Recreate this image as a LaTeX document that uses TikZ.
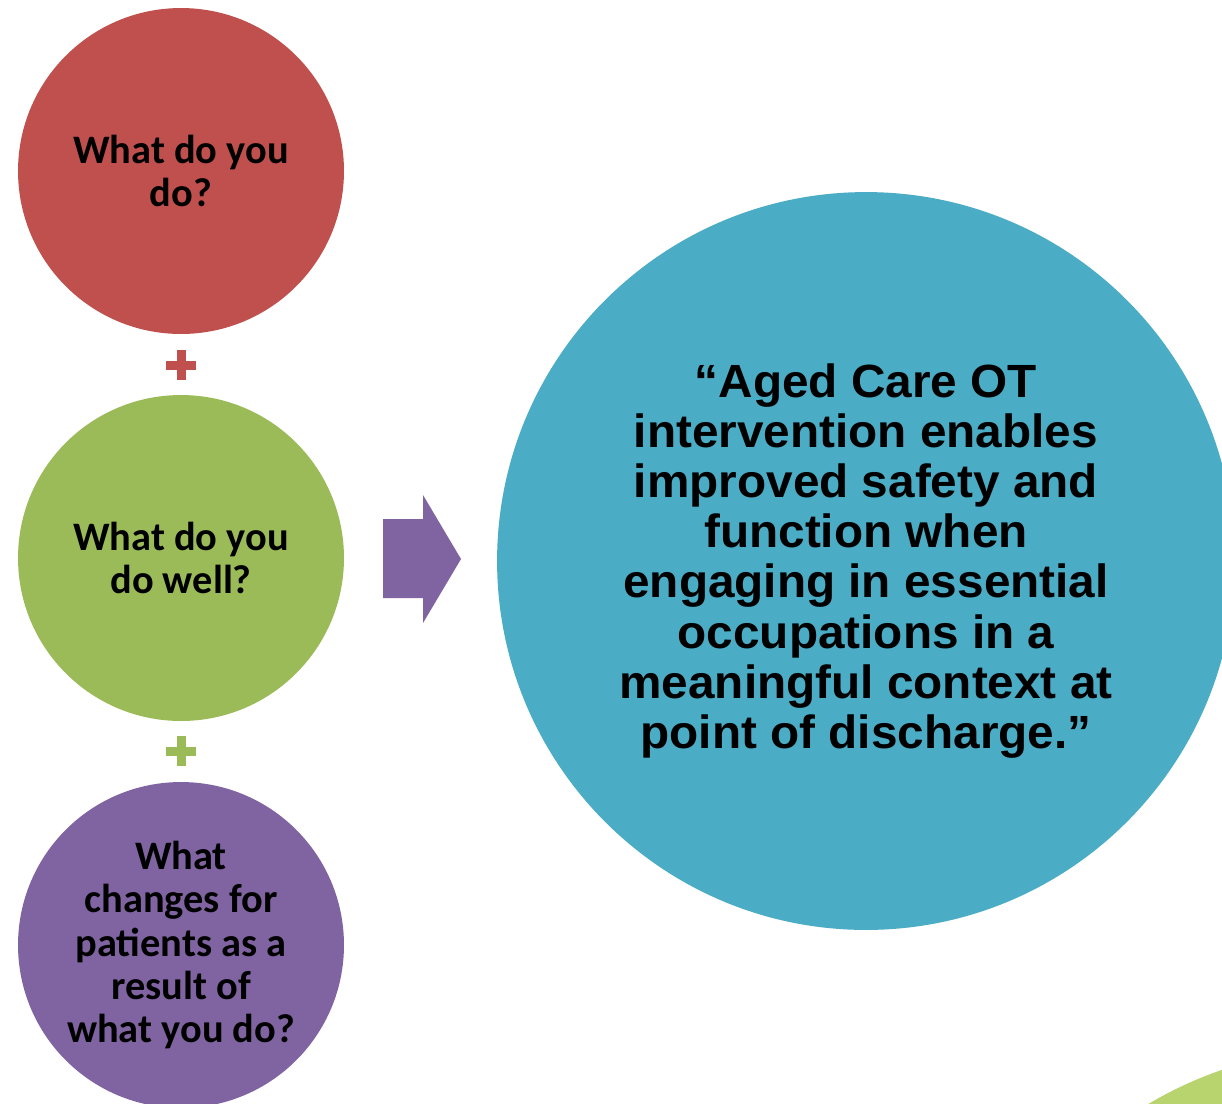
\documentclass[tikz,border=0pt]{standalone}
\usepackage{fontspec}
\setmainfont{Carlito}
\newfontfamily\quotefont[FakeStretch=1.025]{Liberation Sans}
\usepackage{xcolor}
\usetikzlibrary{positioning}
\definecolor{ocred}{RGB}{192, 80, 77}
\definecolor{ocgreen}{RGB}{155, 187, 89}
\definecolor{ocpurple}{RGB}{128, 100, 162}
\definecolor{ocblue}{RGB}{75, 172, 198}
\definecolor{oclime}{RGB}{183, 212, 110}

\tikzset{
    question/.style={circle, inner sep=0pt, minimum size=6.52cm, align=center,
        font=\fontsize{23}{24.5}\selectfont\bfseries},
    plusbar/.style={inner sep=0pt, minimum width=0.6cm, minimum height=0.18cm}
}

\begin{document}
\begin{tikzpicture}[x=0.02cm, y=-0.02cm]
    \useasboundingbox (0,0) rectangle (1222,1103);
    \clip (0,0) rectangle (1222,1103);
    \fill[white] (0,0) rectangle (1222,1103);
    \fill[oclime] (1353,1450) circle (402);

    \node[question, fill=ocred] (qdo) at (181,171) {What do you\\do?};
    \node[question, fill=ocgreen] (qwell) at (181,558) {What do you\\do well?};
    \node[question, fill=ocpurple] (qchange) at (181,945)
        {What\\changes for\\patients as a\\result of\\what you do?};

    \node[plusbar, fill=ocred] (plusa) at (181,365) {};
    \node[plusbar, fill=ocred, rotate=90] at (plusa) {};
    \node[plusbar, fill=ocgreen] (plusb) at (181,751) {};
    \node[plusbar, fill=ocgreen, rotate=90] at (plusb) {};

    \fill[ocpurple] (383,519) -- (423,519) -- (423,495) -- (461,559)
        -- (423,623) -- (423,598) -- (383,598) -- cycle;

    \node[circle, fill=ocblue, inner sep=0pt, minimum size=14.76cm, align=center,
        font=\quotefont\fontsize{26.5}{28.5}\selectfont\bfseries] (statement) at (866,561)
        {“Aged Care OT\\intervention enables\\improved safety and\\function when\\engaging in essential\\occupations in a\\meaningful context at\\point of discharge.”};
\end{tikzpicture}
\end{document}
